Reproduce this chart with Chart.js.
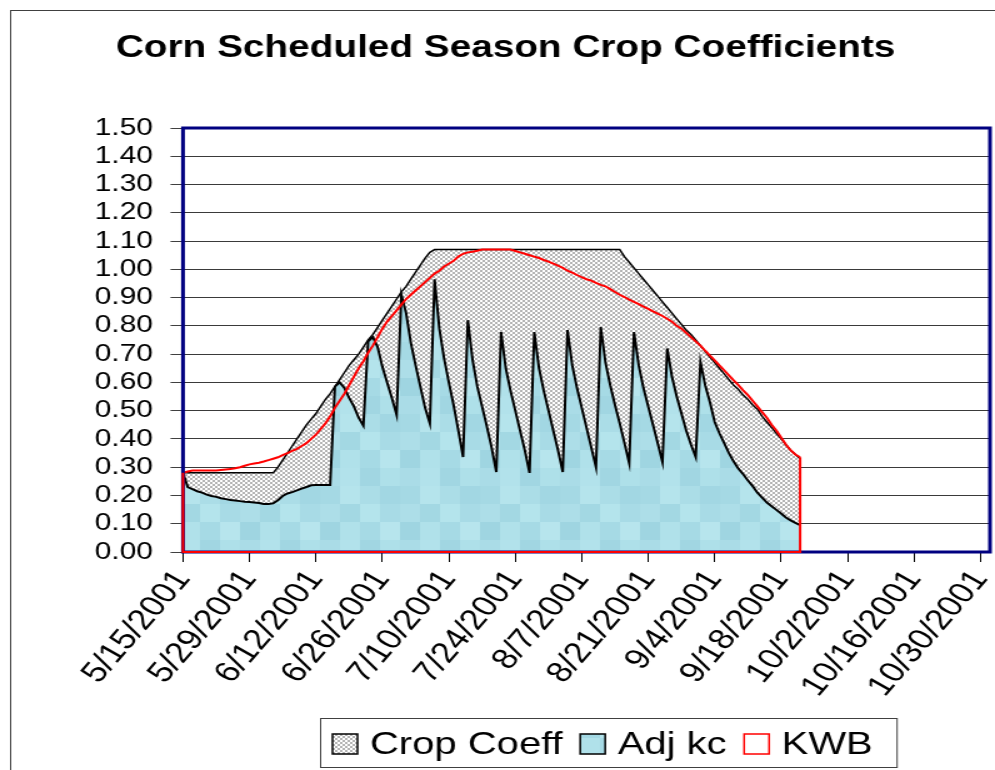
<!DOCTYPE html>
<html>
<head>
<meta charset="utf-8">
<script src="https://cdn.jsdelivr.net/npm/chart.js@4.4.1/dist/chart.umd.min.js"></script>
<style>
    html, body { margin: 0; padding: 0; background: #fff; overflow: hidden; }
</style>
</head>
<body>
<!-- the original picture is stretched sideways, so the canvas is too -->
<canvas id="cropChart" width="796" height="770" style="display:block;width:995px;height:770px"></canvas>
<script>
// Data: one value per day, day 0 = 5/15/2001
const tickLabels = ['5/15/2001', '5/29/2001', '6/12/2001', '6/26/2001', '7/10/2001', '7/24/2001',
    '8/7/2001', '8/21/2001', '9/4/2001', '9/18/2001', '10/2/2001', '10/16/2001', '10/30/2001'];
const tickStep = 14;   // days between labels
const lastDay = 170;   // axis runs on to 11/1/2001

const cropCoeff = [
    0.28, 0.28, 0.28, 0.28, 0.28, 0.28, 0.28, 0.28, 0.28, 0.28,
    0.28, 0.28, 0.28, 0.28, 0.28, 0.28, 0.28, 0.28, 0.28, 0.28,
    0.30, 0.325, 0.35, 0.375, 0.40, 0.425, 0.45, 0.47, 0.49, 0.515,
    0.54, 0.56, 0.585, 0.61, 0.635, 0.66, 0.68, 0.70, 0.725, 0.75,
    0.77, 0.795, 0.82, 0.845, 0.87, 0.895, 0.92, 0.94, 0.965, 0.99,
    1.015, 1.04, 1.06, 1.07, 1.07, 1.07, 1.07, 1.07, 1.07, 1.07,
    1.07, 1.07, 1.07, 1.07, 1.07, 1.07, 1.07, 1.07, 1.07, 1.07,
    1.07, 1.07, 1.07, 1.07, 1.07, 1.07, 1.07, 1.07, 1.07, 1.07,
    1.07, 1.07, 1.07, 1.07, 1.07, 1.07, 1.07, 1.07, 1.07, 1.07,
    1.07, 1.07, 1.07, 1.045, 1.025, 1.005, 0.985, 0.965, 0.945, 0.925,
    0.905, 0.885, 0.865, 0.845, 0.825, 0.805, 0.785, 0.77, 0.75, 0.73,
    0.71, 0.69, 0.67, 0.65, 0.63, 0.61, 0.59, 0.575, 0.555, 0.54,
    0.52, 0.505, 0.48, 0.46, 0.44, 0.42, 0.40, 0.38, 0.36, 0.345,
    0.33
];

const adjKc = [
    0.28, 0.23, 0.222, 0.215, 0.21, 0.203, 0.198, 0.195, 0.19, 0.187,
    0.184, 0.182, 0.18, 0.178, 0.177, 0.175, 0.173, 0.17, 0.17, 0.172,
    0.183, 0.198, 0.207, 0.212, 0.218, 0.224, 0.23, 0.236, 0.237, 0.237,
    0.237, 0.237, 0.585, 0.60, 0.58, 0.545, 0.515, 0.475, 0.447, 0.745,
    0.76, 0.725, 0.655, 0.60, 0.545, 0.485, 0.91, 0.845, 0.74, 0.66,
    0.585, 0.51, 0.455, 0.965, 0.79, 0.685, 0.60, 0.52, 0.43, 0.336,
    0.82, 0.68, 0.585, 0.515, 0.445, 0.37, 0.283, 0.778, 0.65, 0.57,
    0.50, 0.43, 0.36, 0.28, 0.778, 0.65, 0.57, 0.50, 0.43, 0.36,
    0.283, 0.785, 0.66, 0.58, 0.51, 0.44, 0.37, 0.30, 0.796, 0.67,
    0.59, 0.52, 0.455, 0.385, 0.314, 0.778, 0.66, 0.58, 0.515, 0.45,
    0.385, 0.318, 0.72, 0.62, 0.55, 0.49, 0.43, 0.38, 0.336, 0.672,
    0.59, 0.53, 0.46, 0.42, 0.385, 0.35, 0.32, 0.295, 0.275, 0.253,
    0.233, 0.21, 0.192, 0.175, 0.162, 0.149, 0.136, 0.122, 0.112, 0.103,
    0.095
];

const kwb = [
    0.28, 0.285, 0.288, 0.288, 0.288, 0.288, 0.288, 0.288, 0.29, 0.292,
    0.294, 0.296, 0.30, 0.305, 0.31, 0.313, 0.316, 0.32, 0.325, 0.33,
    0.335, 0.343, 0.35, 0.358, 0.365, 0.375, 0.385, 0.40, 0.415, 0.435,
    0.455, 0.48, 0.51, 0.535, 0.56, 0.59, 0.62, 0.65, 0.675, 0.705,
    0.73, 0.76, 0.79, 0.815, 0.835, 0.855, 0.875, 0.895, 0.91, 0.925,
    0.94, 0.955, 0.97, 0.985, 0.995, 1.01, 1.02, 1.03, 1.045, 1.055,
    1.06, 1.062, 1.066, 1.07, 1.07, 1.07, 1.07, 1.07, 1.07, 1.07,
    1.065, 1.06, 1.055, 1.05, 1.045, 1.04, 1.033, 1.027, 1.02, 1.013,
    1.005, 0.995, 0.988, 0.98, 0.972, 0.965, 0.96, 0.952, 0.945, 0.94,
    0.93, 0.92, 0.91, 0.902, 0.893, 0.885, 0.877, 0.868, 0.86, 0.851,
    0.843, 0.835, 0.825, 0.815, 0.80, 0.79, 0.775, 0.76, 0.745, 0.73,
    0.712, 0.695, 0.678, 0.66, 0.643, 0.625, 0.607, 0.59, 0.572, 0.555,
    0.535, 0.515, 0.495, 0.475, 0.45, 0.43, 0.405, 0.38, 0.36, 0.345,
    0.335
];

// Fill patterns
const blueShades = ['#addee8', '#a3d8e3', '#b4e4ec', '#a8dbe6', '#9fd5e1', '#b0e1ea', '#a6dae5', '#b7e5ed',
    '#aadce7', '#b2e2eb', '#a1d6e2', '#aee0e9', '#a5d9e4', '#b5e4ec', '#abdde7', '#a2d7e3'];

const makeCheckPattern = (ctx) => {
    const c = document.createElement('canvas');
    c.width = 4;
    c.height = 4;
    const g = c.getContext('2d');
    g.fillStyle = '#b4b4b4';
    g.fillRect(0, 0, 4, 4);
    g.fillStyle = '#ffffff';
    g.fillRect(0, 0, 2, 2);
    g.fillRect(2, 2, 2, 2);
    return ctx.createPattern(c, 'repeat');
};

const makeBluePattern = (ctx) => {
    const c = document.createElement('canvas');
    c.width = 64;
    c.height = 72;
    const g = c.getContext('2d');
    blueShades.forEach((shade, i) => {
        g.fillStyle = shade;
        g.fillRect((i % 4) * 16, Math.floor(i / 4) * 18, 16, 18);
    });
    return ctx.createPattern(c, 'repeat');
};

const toPoints = (values) => values.map((v, i) => ({ x: i, y: v }));

const font = (size, weight) => ({ family: '"Liberation Sans", Arial, sans-serif', size, weight });

// Frame, plot border and the closed outline of the KWB area
const framePlugin = {
    id: 'frame',
    beforeDraw(chart) {
        const { ctx } = chart;
        ctx.save();
        ctx.strokeStyle = '#404040';
        ctx.lineWidth = 1;
        ctx.strokeRect(8.5, 10.5, chart.width + 20, chart.height + 20);
        ctx.restore();
    },
    afterDatasetsDraw(chart) {
        const { ctx, chartArea: a, scales } = chart;
        ctx.save();
        ctx.strokeStyle = '#000080';
        ctx.lineWidth = 3;
        ctx.strokeRect(a.left, a.top, a.right - a.left, a.bottom - a.top);

        const x0 = scales.x.getPixelForValue(0);
        const x1 = scales.x.getPixelForValue(kwb.length - 1);
        const yZero = scales.y.getPixelForValue(0);
        ctx.strokeStyle = '#ff0000';
        ctx.lineWidth = 2;
        ctx.beginPath();
        ctx.moveTo(x1, scales.y.getPixelForValue(kwb[kwb.length - 1]));
        ctx.lineTo(x1, yZero);
        ctx.lineTo(x0, yZero);
        ctx.lineTo(x0, scales.y.getPixelForValue(kwb[0]));
        ctx.stroke();
        ctx.restore();
    }
};

// Boxed legend under the axis labels
const boxLegendPlugin = {
    id: 'boxLegend',
    afterDraw(chart) {
        const { ctx } = chart;
        const datasets = chart.data.datasets;
        const top = 718, bottom = 767, mid = 744;
        const patch = 20, gap = 10, itemGap = 14;
        let x = 266;
        ctx.save();
        ctx.font = '32px "Liberation Sans", Arial, sans-serif';
        ctx.textBaseline = 'middle';
        ctx.textAlign = 'left';
        datasets.forEach((ds) => {
            ctx.fillStyle = ds.fill ? ds.backgroundColor : '#ffffff';
            ctx.fillRect(x, mid - patch / 2, patch, patch);
            ctx.strokeStyle = ds.borderColor;
            ctx.lineWidth = 1.5;
            ctx.strokeRect(x, mid - patch / 2, patch, patch);
            x += patch + gap;
            ctx.fillStyle = '#000';
            ctx.fillText(ds.label, x, mid + 1);
            x += ctx.measureText(ds.label).width + itemGap;
        });
        ctx.strokeStyle = '#404040';
        ctx.lineWidth = 1;
        ctx.strokeRect(256.5, top + 0.5, x - itemGap + 19 - 256, bottom - top);
        ctx.restore();
    }
};

const canvas = document.getElementById('cropChart');
const ctx = canvas.getContext('2d');

new Chart(ctx, {
    type: 'line',
    data: {
        datasets: [
            {
                label: 'Crop Coeff',
                data: toPoints(cropCoeff),
                fill: 'origin',
                backgroundColor: makeCheckPattern(ctx),
                borderColor: '#000000',
                borderWidth: 1.5,
                order: 3
            },
            {
                label: 'Adj kc',
                data: toPoints(adjKc),
                fill: 'origin',
                backgroundColor: makeBluePattern(ctx),
                borderColor: '#000000',
                borderWidth: 2,
                order: 2
            },
            {
                label: 'KWB',
                data: toPoints(kwb),
                fill: false,
                borderColor: '#ff0000',
                borderWidth: 2,
                order: 1
            }
        ]
    },
    options: {
        responsive: false,
        devicePixelRatio: 1,
        animation: false,
        events: [],
        elements: {
            point: { radius: 0 },
            line: { tension: 0 }
        },
        layout: { padding: { left: 17, right: 4, top: 0, bottom: 0 } },
        plugins: {
            legend: { display: false },
            tooltip: { enabled: false },
            title: {
                display: true,
                text: 'Corn Scheduled Season Crop Coefficients',
                color: '#000',
                font: font(31, 'bold'),
                padding: { top: 30, bottom: 60.8 }
            }
        },
        scales: {
            x: {
                type: 'linear',
                min: 0,
                max: lastDay,
                afterBuildTicks: (scale) => {
                    scale.ticks = tickLabels.map((_, i) => ({ value: i * tickStep }));
                },
                afterFit: (scale) => {
                    scale.height = 218;
                    scale.paddingLeft = 0;
                    scale.paddingRight = 0;
                },
                border: { display: false },
                grid: {
                    drawOnChartArea: false,
                    drawTicks: true,
                    tickLength: 10,
                    tickColor: '#000'
                },
                ticks: {
                    autoSkip: false,
                    minRotation: 55,
                    maxRotation: 55,
                    padding: 2,
                    color: '#000',
                    font: font(29),
                    callback: (value) => tickLabels[Math.round(value / tickStep)]
                }
            },
            y: {
                min: 0,
                max: 1.5,
                afterFit: (scale) => { scale.width = 129.4; },
                border: { display: false },
                grid: {
                    color: '#3a3a3a',
                    tickColor: '#404040',
                    tickLength: 10
                },
                ticks: {
                    stepSize: 0.1,
                    autoSkip: false,
                    padding: 14,
                    color: '#000',
                    font: font(24),
                    callback: (value) => value.toFixed(2)
                }
            }
        }
    },
    plugins: [framePlugin, boxLegendPlugin]
});
</script>
</body>
</html>
